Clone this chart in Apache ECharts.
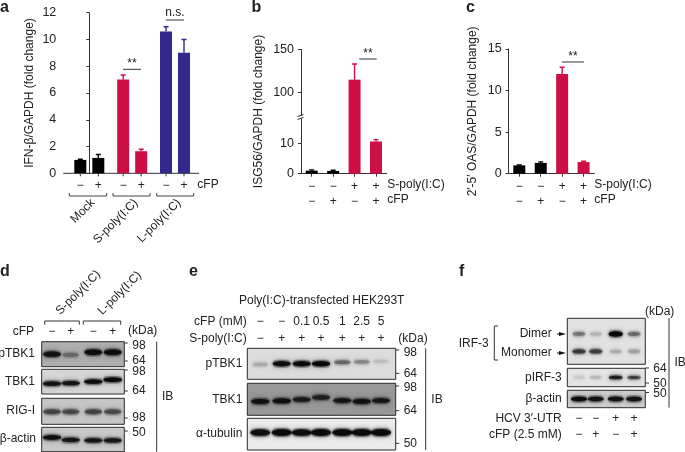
<!DOCTYPE html>
<html><head><meta charset="utf-8">
<style>html,body{margin:0;padding:0;background:#fff}#c{width:685px;height:452px}</style>
<script src="https://cdn.jsdelivr.net/npm/echarts@6/dist/echarts.min.js"></script></head>
<body><div id="c"></div>
<script>
// ---------- data: bar panels ----------
const aGroups = ['Mock', 'S-poly(I:C)', 'L-poly(I:C)'];
const aMinus = [1.0, 7.0, 10.6];
const aPlus = [1.15, 1.65, 9.0];
const aMinusTop = [1.05, 7.35, 10.95];
const aPlusTop = [1.4, 1.8, 10.0];
const aTicks = [0, 2, 4, 6, 8, 10, 12];

const bSPoly = ['−', '−', '+', '+'];
const bCfp = ['−', '+', '−', '+'];
const bValues = [1.0, 0.9, 115, 10.6];
const bTop = [1.25, 1.15, 133, 11.2];

const cSPoly = ['−', '−', '+', '+'];
const cCfp = ['−', '+', '−', '+'];
const cValues = [1.0, 1.3, 12.0, 1.4];
const cTop = [1.05, 1.42, 12.8, 1.5];

// ---------- data: blot band strengths per lane ----------
const dPTBK1 = [0.9, 0.42, 0.95, 0.95];
const dTBK1 = [0.92, 0.9, 0.95, 1.0];
const dRIGI = [0.62, 0.6, 0.62, 0.58];
const dActin = [0.95, 0.88, 0.88, 0.88];
const eCfp = ['−', '−', '0.1', '0.5', '1', '2.5', '5'];
const eSPoly = ['−', '+', '+', '+', '+', '+', '+'];
const ePTBK1 = [0.25, 0.95, 0.97, 1.0, 0.5, 0.38, 0.16];
const eTBK1 = [0.92, 0.95, 0.85, 0.8, 0.88, 0.92, 0.88];
const eTubulin = [0.95, 0.97, 0.95, 0.97, 0.97, 0.97, 0.97];
const fDimer = [0.45, 0.22, 1.0, 0.5];
const fMonomer = [0.7, 0.68, 0.25, 0.3];
const fPIRF = [0.14, 0.24, 0.85, 0.7];
const fActin = [0.97, 0.92, 0.92, 0.92];
const fHcv = ['−', '−', '+', '+'];
const fCfp = ['−', '+', '−', '+'];

// ---------- styles ----------
const FONT = '12px "Liberation Sans", Arial, sans-serif';
const INK = '#222', BLACK = '#000', RED = '#cd0f45', BLUE = '#33288c', AX = '#333';
const aColorsM = [BLACK, RED, BLUE], aColorsP = [BLACK, RED, BLUE];
const colors4 = [BLACK, BLACK, RED, RED];

const graphics = [];
function T(text, x, y, align, opt) {
  opt = opt || {};
  graphics.push({ type: 'text', x, y, rotation: opt.rot || 0, silent: true, style: {
    text, align: align || 'left', verticalAlign: 'middle', font: opt.font || FONT, fill: INK } });
}
function L(points, w, color) {
  graphics.push({ type: 'polyline', silent: true, shape: { points },
    style: { stroke: color || AX, lineWidth: w || 1, fill: null } });
}
const grids = [], xAxes = [], yAxes = [], series = [];
function addGrid(g, x, y) {
  const i = grids.length;
  grids.push(g); x.gridIndex = i; y.gridIndex = i; xAxes.push(x); yAxes.push(y);
  return i;
}
const axLine = { show: true, lineStyle: { color: AX, width: 1 } };
const axTick = { show: true, length: 3, lineStyle: { color: AX, width: 1 } };
const yLabel = { fontFamily: 'Liberation Sans', fontSize: 12.5, color: INK, margin: 7 };

function whiskers(idx, values, tops, cols, xf) {
  return { type: 'custom', xAxisIndex: idx, yAxisIndex: idx, clip: true, silent: true, z: 1,
    data: values.map((v, i) => [i, v, tops[i]]),
    renderItem(p, api) {
      const i = api.value(0);
      const a = api.coord([xf ? xf(i) : i, api.value(1)]);
      const b = api.coord([xf ? xf(i) : i, api.value(2)]);
      const off = xf && xf.off ? xf.off : 0;
      const st = { stroke: cols[i], lineWidth: 1.4, fill: null };
      return { type: 'group', children: [
        { type: 'line', shape: { x1: a[0] + off, y1: a[1], x2: b[0] + off, y2: b[1] }, style: st },
        { type: 'line', shape: { x1: a[0] + off - 2.5, y1: b[1], x2: a[0] + off + 2.5, y2: b[1] }, style: st }
      ] };
    } };
}
function bars(idx, values, cols, extra) {
  return Object.assign({ type: 'bar', xAxisIndex: idx, yAxisIndex: idx, barWidth: 12,
    data: values.map((v, i) => ({ value: v, itemStyle: { color: cols[i] } })) }, extra || {});
}

// ---------- panel a ----------
(function () {
  const top = 12.7, bot = 173.3, left = 63.3, right = 199;
  const i = addGrid({ left, top, width: right - left, height: bot - top },
    { type: 'value', min: -0.607, max: 2.56, show: false },
    { type: 'value', min: 0, max: 12, interval: 2, axisLine: axLine, axisTick: axTick, axisLabel: yLabel, splitLine: { show: false },
      name: 'IFN-β/GAPDH (fold change)', nameLocation: 'middle', nameGap: 28,
      nameTextStyle: { fontFamily: 'Liberation Sans', fontSize: 12, color: INK } });
  series.push({ type: 'bar', xAxisIndex: i, yAxisIndex: i, barWidth: 12, barGap: '50%',
    data: aMinus.map((v, k) => ({ value: [k, v], itemStyle: { color: aColorsM[k] } })) });
  series.push({ type: 'bar', xAxisIndex: i, yAxisIndex: i, barWidth: 12, barGap: '50%',
    data: aPlus.map((v, k) => ({ value: [k, v], itemStyle: { color: aColorsP[k] } })) });
  const mk = (vals, tops, cols, off) => {
    const f = k => k; f.off = off;
    return whiskers(i, vals, tops, cols, f);
  };
  series.push(mk(aMinus, aMinusTop, aColorsM, -9));
  series.push(mk(aPlus, aPlusTop, aColorsP, 9));
  series.push({ type: 'custom', xAxisIndex: i, yAxisIndex: i, silent: true, z: 3,
    data: aGroups.flatMap((g, k) => [[k, -9, '−'], [k, 9, '+']]),
    renderItem(p, api) {
      const o = api.coord([api.value(0), 0]);
      const x = o[0] + api.value(1);
      return { type: 'group', children: [
        { type: 'line', shape: { x1: x, y1: o[1], x2: x, y2: o[1] + 3 }, style: { stroke: AX, lineWidth: 1 } },
        { type: 'text', x, y: o[1] + 12, style: { text: api.value(1) < 0 ? '−' : '+', align: 'center', verticalAlign: 'middle', font: FONT, fill: INK } }
      ] };
    } });
  L([[0 + left, bot], [right, bot]]);
  T('cFP', 197.3, 185);
  [[69.3, 106.7], [113, 150], [156.7, 193.7]].forEach(b => L([[b[0], 193], [b[0], 196], [b[1], 196], [b[1], 193]], 1, '#444'));
  T(aGroups[0], 93, 201, 'right', { rot: Math.PI / 4 });
  T(aGroups[1], 136, 201, 'right', { rot: Math.PI / 4 });
  T(aGroups[2], 179, 201, 'right', { rot: Math.PI / 4 });
  L([[123, 69.3], [141, 69.3]]); T('**', 132, 64, 'center');
  L([[166, 20], [184, 20]]); T('n.s.', 175, 13, 'center');
})();

// ---------- panel b ----------
(function () {
  const left = 301, right = 386.7, seam = 117, top = 49.3, bot = 173.7;
  const cats = bSPoly.map((s, k) => s + '\n' + bCfp[k]);
  const xc = extra => Object.assign({ type: 'category', data: cats }, extra);
  const up = addGrid({ left, top, width: right - left, height: seam - top },
    xc({ show: false }),
    { type: 'value', min: 72, max: 150, axisLine: axLine, splitLine: { show: false },
      axisTick: Object.assign({ customValues: [100, 150] }, axTick),
      axisLabel: Object.assign({ customValues: [100, 150] }, yLabel) });
  const low = addGrid({ left, top: seam, width: right - left, height: bot - seam },
    xc({ axisLine: axLine, axisTick: { show: true, length: 3, alignWithLabel: true, lineStyle: { color: AX } },
      axisLabel: { fontFamily: 'Liberation Sans', fontSize: 12, color: INK, lineHeight: 15, margin: 5, interval: 0 } }),
    { type: 'value', min: 0, max: 18.65, axisLine: axLine, splitLine: { show: false },
      axisTick: Object.assign({ customValues: [0, 10] }, axTick),
      axisLabel: Object.assign({ customValues: [0, 10] }, yLabel) });
  series.push(bars(up, bValues, colors4), bars(low, bValues, colors4));
  series.push(whiskers(up, bValues, bTop, colors4), whiskers(low, bValues, bTop, colors4));
  graphics.push({ type: 'rect', silent: true, shape: { x: 298, y: 115.5, width: 5, height: 3 }, style: { fill: '#fff' }, z: 20 });
  graphics.push({ type: 'polyline', silent: true, z: 21, shape: { points: [[297.5, 116.5], [303.5, 114.5]] }, style: { stroke: AX, fill: null } });
  graphics.push({ type: 'polyline', silent: true, z: 21, shape: { points: [[297.5, 119.5], [303.5, 117.5]] }, style: { stroke: AX, fill: null } });
  T('ISG56/GAPDH (fold change)', 258.3, 111.5, 'center', { rot: Math.PI / 2 });
  T('S-poly(I:C)', 387.3, 185); T('cFP', 387.3, 200);
  L([[359.3, 59], [376.7, 59]]); T('**', 368, 54, 'center');
})();

// ---------- panel c ----------
(function () {
  const left = 508.6, right = 594.3, top = 49, bot = 173.7;
  const i = addGrid({ left, top, width: right - left, height: bot - top },
    { type: 'category', data: cSPoly.map((s, k) => s + '\n' + cCfp[k]), axisLine: axLine,
      axisTick: { show: true, length: 3, alignWithLabel: true, lineStyle: { color: AX } },
      axisLabel: { fontFamily: 'Liberation Sans', fontSize: 12, color: INK, lineHeight: 15, margin: 5, interval: 0 } },
    { type: 'value', min: 0, max: 15, interval: 5, axisLine: axLine, axisTick: axTick, axisLabel: yLabel, splitLine: { show: false },
      name: '2′-5′ OAS/GAPDH (fold change)', nameLocation: 'middle', nameGap: 30,
      nameTextStyle: { fontFamily: 'Liberation Sans', fontSize: 12, color: INK } });
  series.push(bars(i, cValues, colors4), whiskers(i, cValues, cTop, colors4));
  T('S-poly(I:C)', 594.3, 185); T('cFP', 594.3, 200);
  L([[562, 62], [584, 62]]); T('**', 573, 57, 'center');
})();

// ---------- blots ----------
function blot(rect, bg, lanes, rows, bw, bh) {
  const [x0, y0, x1, y1] = rect;
  const i = addGrid({ show: true, left: x0, top: y0, width: x1 - x0, height: y1 - y0, backgroundColor: bg, borderColor: '#2a2a2a', borderWidth: 1 },
    { type: 'value', min: x0, max: x1, show: false },
    { type: 'value', min: 0, max: 1, inverse: true, show: false });
  const data = [];
  rows.forEach(r => r.vals.forEach((v, k) => data.push([lanes[k], r.y + (r.dy ? r.dy[k] : 0), v])));
  series.push({ type: 'custom', xAxisIndex: i, yAxisIndex: i, clip: true, silent: true, data,
    renderItem(p, api) {
      const c = api.coord([api.value(0), api.value(1)]);
      const s = api.value(2);
      const g = Math.round(70 * (1 - s) + 8);
      const col = `rgb(${g},${g},${g})`;
      const w = bw * (0.85 + 0.15 * s), h = bh * (0.6 + 0.4 * s);
      return { type: 'group', children: [
        { type: 'rect', shape: { x: c[0] - w / 2, y: c[1] - h / 2 - 1.5, width: w, height: h + 3, r: (h + 3) / 2 },
          style: { fill: col, opacity: 0.25 * s, shadowBlur: 5, shadowColor: col } },
        { type: 'ellipse', shape: { cx: c[0], cy: c[1], rx: w / 2, ry: h / 2 },
          style: { fill: col, opacity: Math.pow(s, 1.4), shadowBlur: 2.5, shadowColor: col } }
      ] };
    } });
}
function mw(x, list) {
  list.forEach(m => { L([[x, m[1]], [x + 3.5, m[1]]]); T(m[0], x + 8, m[2] || m[1]); });
}

// panel d
(function () {
  const lanes = [52, 70.7, 93.3, 112.7], X0 = 41.7, X1 = 124.3;
  blot([X0, 341.7, X1, 366.7], '#aeaeae', lanes, [{ y: 0.5, vals: dPTBK1, dy: [0, 0.03, -0.08, -0.08] }], 18, 5.5);
  blot([X0, 369.3, X1, 394], '#d6d6d6', lanes, [{ y: 0.52, vals: dTBK1, dy: [0.06, 0.04, -0.02, -0.1] }], 18.5, 4.5);
  blot([X0, 398.3, X1, 424.3], '#c6c6c6', lanes, [{ y: 0.52, vals: dRIGI, dy: [0, 0, 0, 0] }], 18.5, 6);
  blot([X0, 427.3, X1, 451.7], '#c9c9c9', lanes, [{ y: 0.5, vals: dActin, dy: [-0.08, 0.02, 0.04, 0.04] }], 18.5, 4.5);
  T('pTBK1', 35, 354, 'right'); T('TBK1', 35, 382, 'right'); T('RIG-I', 35, 411, 'right'); T('β-actin', 36, 439, 'right');
  T('cFP', 34, 332, 'right');
  ['−', '+', '−', '+'].forEach((s, k) => T(s, lanes[k], 332, 'center'));
  T('(kDa)', 128, 331);
  mw(X1, [['98', 343, 345.7], ['64', 361, 361], ['98', 370, 371.7], ['64', 391, 390.7], ['98', 418, 417.7], ['50', 431, 432.3]]);
  L([[156.7, 341.7], [156.7, 451.7]]); T('IB', 162, 396.7);
  L([[44.7, 324.7], [44.7, 321], [79.3, 321], [79.3, 324.7]]);
  L([[83.3, 324.7], [83.3, 321], [120.7, 321], [120.7, 324.7]]);
  T('S-poly(I:C)', 58, 313, 'left', { rot: Math.PI / 4 });
  T('L-poly(I:C)', 100, 313, 'left', { rot: Math.PI / 4 });
})();

// panel e
(function () {
  const lanes = [260.3, 281.7, 301.7, 321, 342.3, 361.7, 381], X0 = 247.3, X1 = 395.7;
  blot([X0, 348.3, X1, 379.3], '#dcdcdc', lanes, [{ y: 0.5, vals: ePTBK1, dy: [0.02, 0, 0, 0, -0.05, -0.06, -0.08] }], 18, 5);
  blot([X0, 383.3, X1, 415.3], '#989898', lanes, [{ y: 0.57, vals: eTBK1, dy: [0, -0.02, -0.06, -0.13, -0.03, 0, -0.03] }], 18.5, 5);
  blot([X0, 418.3, X1, 450], '#ebebeb', lanes, [{ y: 0.45, vals: eTubulin }], 20, 6.5);
  T('Poly(I:C)-transfected HEK293T', 321.7, 300.7, 'center');
  T('cFP (mM)', 246.7, 321.7, 'right'); T('S-poly(I:C)', 246.7, 339, 'right');
  eCfp.forEach((s, k) => T(s, lanes[k], 321.7, 'center'));
  eSPoly.forEach((s, k) => T(s, lanes[k], 339, 'center'));
  T('(kDa)', 398.3, 339);
  T('pTBK1', 242.3, 364, 'right'); T('TBK1', 242.3, 399.3, 'right'); T('α-tubulin', 242.3, 434, 'right');
  mw(X1, [['98', 350, 352.3], ['64', 373.3, 373.3], ['98', 386, 387.3], ['64', 410.7, 410.7], ['50', 443.3, 443.3]]);
  L([[425.7, 348.3], [425.7, 450]]); T('IB', 431.3, 399.3);
})();

// panel f
(function () {
  const lanes = [579, 595.7, 615.7, 634], X0 = 567.3, X1 = 645.3;
  blot([X0, 318.3, X1, 364.3], '#e2e2e2', lanes, [{ y: 0.34, vals: fDimer }, { y: 0.72, vals: fMonomer }], 14, 5);
  blot([X0, 368.3, X1, 386.7], '#e4e4e4', lanes, [{ y: 0.5, vals: fPIRF }], 14, 3.5);
  blot([X0, 390.3, X1, 407.7], '#cfcfcf', lanes, [{ y: 0.5, vals: fActin }], 16, 4.5);
  T('Dimer', 551.7, 334, 'right'); T('Monomer', 551.7, 353, 'right');
  T('IRF-3', 488.7, 343.3, 'right');
  L([[498, 326], [494.3, 326], [494.3, 360], [498, 360]]);
  [334, 353].forEach(y => {
    L([[557, y], [563, y]], 1, '#111');
    graphics.push({ type: 'polygon', silent: true, shape: { points: [[559, y - 2], [566, y], [559, y + 2]] }, style: { fill: '#111' } });
  });
  T('pIRF-3', 561.7, 377.3, 'right'); T('β-actin', 561.7, 398.7, 'right');
  T('(kDa)', 645, 312);
  L([[669, 318], [669, 407.7]]); T('IB', 674.5, 362.7);
  L([[645.3, 368], [649, 368]]); T('64', 653.3, 368.3);
  L([[645.3, 383], [649, 383]]); T('50', 653.3, 384);
  L([[645.3, 392.5], [649, 392.5]]); T('50', 653.3, 394);
  T('HCV 3′-UTR', 561.7, 419, 'right'); T('cFP (2.5 mM)', 561.7, 434.3, 'right');
  fHcv.forEach((s, k) => T(s, lanes[k], 419, 'center'));
  fCfp.forEach((s, k) => T(s, lanes[k], 434.3, 'center'));
})();

// panel letters
const BOLD = 'bold 16px "Liberation Sans", Arial, sans-serif';
[['a', 0, 8], ['b', 251.5, 8], ['c', 466, 8], ['d', 0, 271.5], ['e', 189, 271.5], ['f', 459, 271.5]]
  .forEach(p => T(p[0], p[1], p[2], 'left', { font: BOLD }));

const chart = echarts.init(document.getElementById('c'), null, { renderer: 'canvas' });
chart.setOption({ animation: false, backgroundColor: '#fff', grid: grids, xAxis: xAxes, yAxis: yAxes, series, graphic: graphics });
</script></body></html>
